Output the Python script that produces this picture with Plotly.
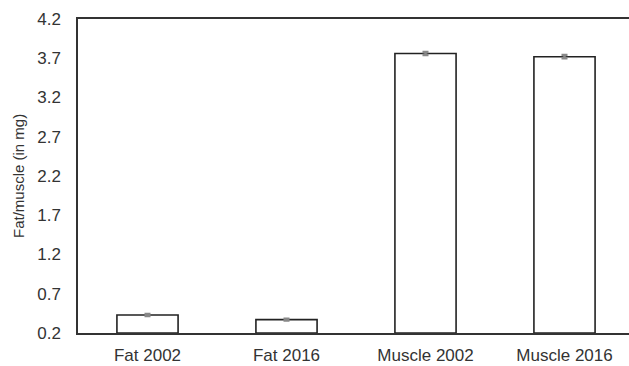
import plotly.graph_objects as go

categories = ["Fat 2002", "Fat 2016", "Muscle 2002", "Muscle 2016"]
values = [0.43, 0.37, 3.76, 3.72]
errors = [0.012, 0.01, 0.02, 0.02]
y_ticks = [0.2, 0.7, 1.2, 1.7, 2.2, 2.7, 3.2, 3.7, 4.2]
base_value = 0.2

W, H = 629, 366
ml, mr, mt, mb = 78, 0, 19, 33
pw = W - ml - mr

fig = go.Figure()
fig.add_trace(go.Bar(
    x=list(range(len(categories))),
    y=[v - base_value for v in values],
    base=base_value,
    width=0.44,
    marker=dict(color="white", line=dict(color="#222222", width=1.6)),
    error_y=dict(type="data", array=errors, visible=True, color="#888888", thickness=2.5, width=3),
))

fig.update_layout(
    width=W, height=H,
    margin=dict(l=ml, r=mr, t=mt, b=mb),
    paper_bgcolor="white", plot_bgcolor="white",
    showlegend=False,
    font=dict(family="Liberation Sans, Arial, sans-serif", size=17, color="#333333"),
)
fig.update_xaxes(
    range=[-0.5, -0.5 + pw / 139.0],
    tickmode="array", tickvals=list(range(len(categories))), ticktext=categories,
    showline=True, linecolor="#333333", linewidth=1.5, mirror=True,
    showgrid=False, zeroline=False, ticks="", ticklabelstandoff=6,
    tickfont=dict(size=17),
)
fig.update_yaxes(
    range=[0.2, 4.2],
    tickmode="array", tickvals=y_ticks, ticktext=[f"{t:.1f}" for t in y_ticks],
    showline=True, linecolor="#333333", linewidth=1.5, mirror=False,
    showgrid=False, zeroline=False, ticks="", ticklabelstandoff=12,
    tickfont=dict(size=17),
)
fig.add_annotation(
    text="Fat/muscle (in mg)", xref="paper", yref="paper",
    x=-(ml - 18) / pw, y=0.5, xanchor="center", yanchor="middle",
    textangle=-90, showarrow=False, font=dict(size=15, color="#333333"),
)
fig.write_html("out.html")
